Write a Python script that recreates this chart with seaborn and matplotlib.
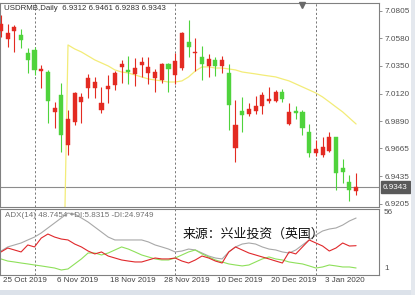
import numpy as np
import pandas as pd
import matplotlib
matplotlib.use("Agg")
import matplotlib.pyplot as plt
import matplotlib.transforms as mtransforms
from matplotlib.patches import Rectangle
import seaborn as sns

# ---------------- data ----------------
date_labels = ["25 Oct 2019", "6 Nov 2019", "18 Nov 2019", "28 Nov 2019",
               "10 Dec 2019", "20 Dec 2019", "3 Jan 2020"]
date_bars = [0, 8, 16, 24, 32, 40, 48]
month_starts = [5, 26, 47]

open_ = [7.0639, 7.0573, 7.0639, 7.0606, 7.0457, 7.0482, 7.0307, 7.0299, 6.9968, 7.0108,
         6.9694, 6.9885, 7.0050, 7.0167, 7.0167, 6.9984, 7.0158, 7.0191, 7.0341, 7.0316,
         7.0283, 7.0357, 7.0291, 7.0249, 7.0233, 7.0365, 7.0274, 7.0332, 7.0548, 7.0457,
         7.0423, 7.0349, 7.0399, 7.0349, 7.0291, 6.9669, 6.9976, 6.9951, 6.9976, 7.0017,
         7.0059, 7.0059, 7.0133, 6.9868, 6.9976, 6.9968, 6.9802, 6.9628, 6.9611, 6.9644,
         6.9760, 6.9503, 6.9387, 6.9312]
high = [7.0772, 7.0697, 7.0689, 7.0656, 7.0498, 7.0506, 7.0357, 7.0316, 7.0050, 7.0208,
        6.9984, 7.0133, 7.0125, 7.0283, 7.0258, 7.0175, 7.0274, 7.0307, 7.0399, 7.0432,
        7.0415, 7.0423, 7.0423, 7.0324, 7.0374, 7.0374, 7.0457, 7.0631, 7.0730, 7.0581,
        7.0515, 7.0448, 7.0423, 7.0432, 7.0365, 7.0067, 7.0092, 7.0042, 7.0100, 7.0133,
        7.0175, 7.0150, 7.0158, 7.0042, 7.0017, 6.9984, 6.9868, 6.9735, 6.9760, 6.9802,
        6.9760, 6.9578, 6.9445, 6.9461]
low = [7.0589, 7.0506, 7.0465, 7.0498, 7.0291, 7.0274, 7.0167, 6.9876, 6.9835, 6.9636,
       6.9611, 6.9860, 6.9876, 7.0084, 7.0084, 6.9959, 7.0042, 7.0150, 7.0208, 7.0200,
       7.0183, 7.0258, 7.0200, 7.0133, 7.0208, 7.0133, 7.0200, 7.0316, 7.0423, 7.0307,
       7.0233, 7.0258, 7.0266, 7.0291, 6.9818, 6.9553, 6.9802, 6.9934, 6.9951, 6.9951,
       7.0042, 7.0050, 7.0050, 6.9860, 6.9910, 6.9777, 6.9594, 6.9603, 6.9594, 6.9636,
       6.9321, 6.9379, 6.9230, 6.9283]
close = [7.0697, 7.0622, 7.0672, 7.0564, 7.0399, 7.0316, 7.0324, 7.0059, 7.0001, 6.9777,
         6.9910, 7.0125, 7.0092, 7.0249, 7.0216, 7.0042, 7.0183, 7.0291, 7.0365, 7.0299,
         7.0332, 7.0382, 7.0341, 7.0299, 7.0365, 7.0324, 7.0390, 7.0622, 7.0506, 7.0465,
         7.0365, 7.0407, 7.0349, 7.0399, 7.0026, 6.9860, 6.9943, 6.9992, 7.0017, 7.0108,
         7.0075, 7.0133, 7.0075, 6.9968, 6.9959, 6.9835, 6.9628, 6.9661, 6.9677, 6.9760,
         6.9462, 6.9470, 6.9321, 6.9343]

ma = [np.nan] * 9 + [6.754,
      7.0523, 7.0490, 7.0465, 7.0432, 7.0399, 7.0374, 7.0349, 7.0316, 7.0299, 7.0291,
      7.0274, 7.0258, 7.0241, 7.0233, 7.0225, 7.0216, 7.0216, 7.0225, 7.0258, 7.0307,
      7.0341, 7.0341, 7.0332, 7.0332, 7.0324, 7.0316, 7.0299, 7.0291, 7.0283, 7.0274,
      7.0266, 7.0258, 7.0241, 7.0225, 7.0200, 7.0175, 7.0150, 7.0125, 7.0092, 7.0051,
      7.0009, 6.9968, 6.9918, 6.9868]

adx = [20.4, 23.9, 25.6, 27.3, 29.9, 32.4, 35.9, 40.2, 44.5, 48.8,
       53.0, 52.2, 48.8, 45.3, 41.0, 36.7, 32.4, 29.9, 29.9, 29.9,
       29.9, 29.9, 28.2, 25.6, 23.9, 22.1, 19.6, 20.4, 22.1, 21.3,
       18.7, 16.1, 14.4, 13.6, 19.6, 23.9, 26.4, 27.3, 26.4, 23.9,
       22.1, 21.3, 19.6, 18.7, 21.3, 25.6, 29.9, 34.2, 37.6, 39.3,
       40.2, 42.7, 46.2, 48.7454]
minus_di = [19.6, 23.0, 21.3, 19.6, 25.6, 23.9, 31.5, 35.0, 32.4, 30.7,
            29.9, 26.4, 23.9, 20.4, 17.9, 19.6, 16.1, 14.4, 12.7, 11.8,
            11.0, 11.0, 12.7, 14.4, 13.6, 13.6, 14.4, 11.8, 10.1, 12.7,
            16.1, 14.4, 11.8, 10.1, 19.6, 23.9, 21.3, 18.7, 17.0, 15.3,
            13.6, 11.8, 10.1, 19.6, 17.9, 23.9, 29.9, 27.3, 24.7, 20.4,
            23.0, 27.3, 24.7, 24.9749]
plus_di = [13.6, 11.8, 11.0, 10.1, 9.3, 8.4, 7.6, 6.7, 5.8, 4.1,
           5.0, 9.3, 13.6, 18.7, 18.7, 17.0, 18.7, 21.3, 23.9, 22.1,
           19.6, 17.0, 15.3, 13.6, 12.7, 12.7, 14.4, 17.0, 19.6, 21.3,
           17.9, 15.3, 12.7, 11.0, 9.3, 8.4, 7.6, 8.4, 11.0, 13.6,
           15.3, 13.6, 12.7, 11.0, 10.1, 9.3, 7.6, 5.8, 6.7, 8.4,
           7.6, 6.7, 6.7, 5.8315]

price_ticks = [7.0805, 7.0580, 7.0350, 7.0120, 6.9890, 6.9665, 6.9435, 6.9205]
last_price = 6.9343
header = "USDRMB,Daily  6.9312 6.9461 6.9283 6.9343"
adx_header = "ADX(14) 48.7454 +DI:5.8315 -DI:24.9749"
adx_labels = ["56", "1"]
source_text = "来源：兴业投资（英国）"

# ---------------- style ----------------
sns.set_theme(style="white")
plt.rcParams['font.family'] = ['Liberation Sans', 'DejaVu Sans']

W, H = 415, 295
fig = plt.figure(figsize=(W / 100, H / 100), dpi=100)
fig.patch.set_facecolor("white")

ax = fig.add_axes([0 / W, 1 - 207 / H, 379 / W, (207 - 2.5) / H])
ax2 = fig.add_axes([0 / W, 1 - 275 / H, 379 / W, (275 - 209) / H])

UP = "#e32b22"
DOWN = "#4fd33c"
GRID = "#808080"

df = pd.DataFrame({"bar": np.arange(len(open_)), "open": open_, "high": high,
                   "low": low, "close": close, "ma": ma,
                   "adx": adx, "pdi": plus_di, "mdi": minus_di})
colors = [UP if c >= o else DOWN for o, c in zip(df["open"], df["close"])]

# price line
ax.axhline(last_price, color="#8c8c8c", lw=0.8, zorder=1)

# moving average (under candles)
sns.lineplot(data=df, x="bar", y="ma", ax=ax, color="#f3ec78", lw=0.9,
             zorder=2, legend=False)

# candles
ax.vlines(df["bar"], df["low"], df["high"], colors=colors, lw=0.8, zorder=3)
body_bottom = np.minimum(df["open"], df["close"])
body_h = np.maximum(np.abs(df["close"] - df["open"]), 0.0003)
ax.bar(df["bar"], body_h, bottom=body_bottom, width=0.62, color=colors,
       edgecolor=colors, linewidth=0.3, zorder=4)

ax.set_xlim(-0.15, 56.42)
ax.set_ylim(6.9180, 7.0875)
ax2.set_xlim(-0.15, 56.42)
ax2.set_ylim(-0.2, 56.5)

for a in (ax, ax2):
    for s in a.spines.values():
        s.set_color(GRID)
        s.set_linewidth(0.8)
    a.set_xlabel("")
    a.set_ylabel("")
    for m in month_starts:
        a.axvline(m, color="#777777", lw=0.7, ls=(0, (2.2, 2.2)), zorder=1)

ax.set_xticks([])
ax.yaxis.tick_right()
ax.set_yticks(price_ticks)
ax.set_yticklabels([f"{p:.4f}" for p in price_ticks])
ax.tick_params(axis="y", length=2.5, width=0.6, color=GRID, labelsize=5.9,
               labelcolor="#505050", pad=1.5)

# current price box
trans = mtransforms.blended_transform_factory(ax.transAxes, ax.transData)
ax.text(1.0 + 4 / 379, last_price, f"{last_price:.4f}", transform=trans,
        ha="left", va="center", fontsize=5.9, color="white",
        bbox=dict(boxstyle="square,pad=0.3", fc="#5a5a5a", ec="#5a5a5a"),
        clip_on=False, zorder=6)

# chart shift marker
ax.plot([44.9], [0.988], marker="v", ms=4, color="#6a6a6a",
        transform=mtransforms.blended_transform_factory(ax.transData, ax.transAxes),
        clip_on=False, zorder=6)

# ADX panel
sns.lineplot(data=df, x="bar", y="adx", ax=ax2, color="#a8a8a8", lw=0.8, legend=False)
sns.lineplot(data=df, x="bar", y="pdi", ax=ax2, color="#8ee05a", lw=0.8, legend=False)
sns.lineplot(data=df, x="bar", y="mdi", ax=ax2, color="#e0282b", lw=0.8, legend=False)
ax2.set_xlabel("")
ax2.set_ylabel("")
ax2.set_yticks([])
ax2.set_xticks(date_bars)
ax2.set_xticklabels([""] * len(date_bars))
ax2.tick_params(axis="x", length=4, width=0.6, color=GRID, direction="out")
xtr = ax2.get_xaxis_transform()
for b, lbl in zip(date_bars, date_labels):
    ax2.text(b + 0.3, -1.5 / 66, lbl, transform=xtr, ha="left", va="top",
             fontsize=5.8, color="#404040", clip_on=False)

fig.text(384 / W, 1 - 213 / H, adx_labels[0], ha="left", va="center",
         fontsize=5.9, color="#505050")
fig.text(384 / W, 1 - 269 / H, adx_labels[1], ha="left", va="center",
         fontsize=5.9, color="#505050")

fig.text(4 / W, 1 - 9 / H, header, ha="left", va="center", fontsize=5.7,
         color="#303030")
fig.text(5 / W, 1 - 215.5 / H, adx_header, ha="left", va="center", fontsize=5.75,
         color="#707070")
fig.text(183 / W, 1 - 234 / H, source_text, ha="left", va="center", fontsize=9.3,
         color="#111111", family=["Noto Sans CJK SC", "DejaVu Sans"])

# window frame bands
fig.patches.append(Rectangle((0, 0), 1, 5 / H, transform=fig.transFigure,
                             fc="#dce2ea", ec="none", zorder=0))
fig.patches.append(Rectangle((411 / W, 0), 4 / W, 1, transform=fig.transFigure,
                             fc="#e4e8ee", ec="none", zorder=0))

fig.savefig("out.png", dpi=100)
